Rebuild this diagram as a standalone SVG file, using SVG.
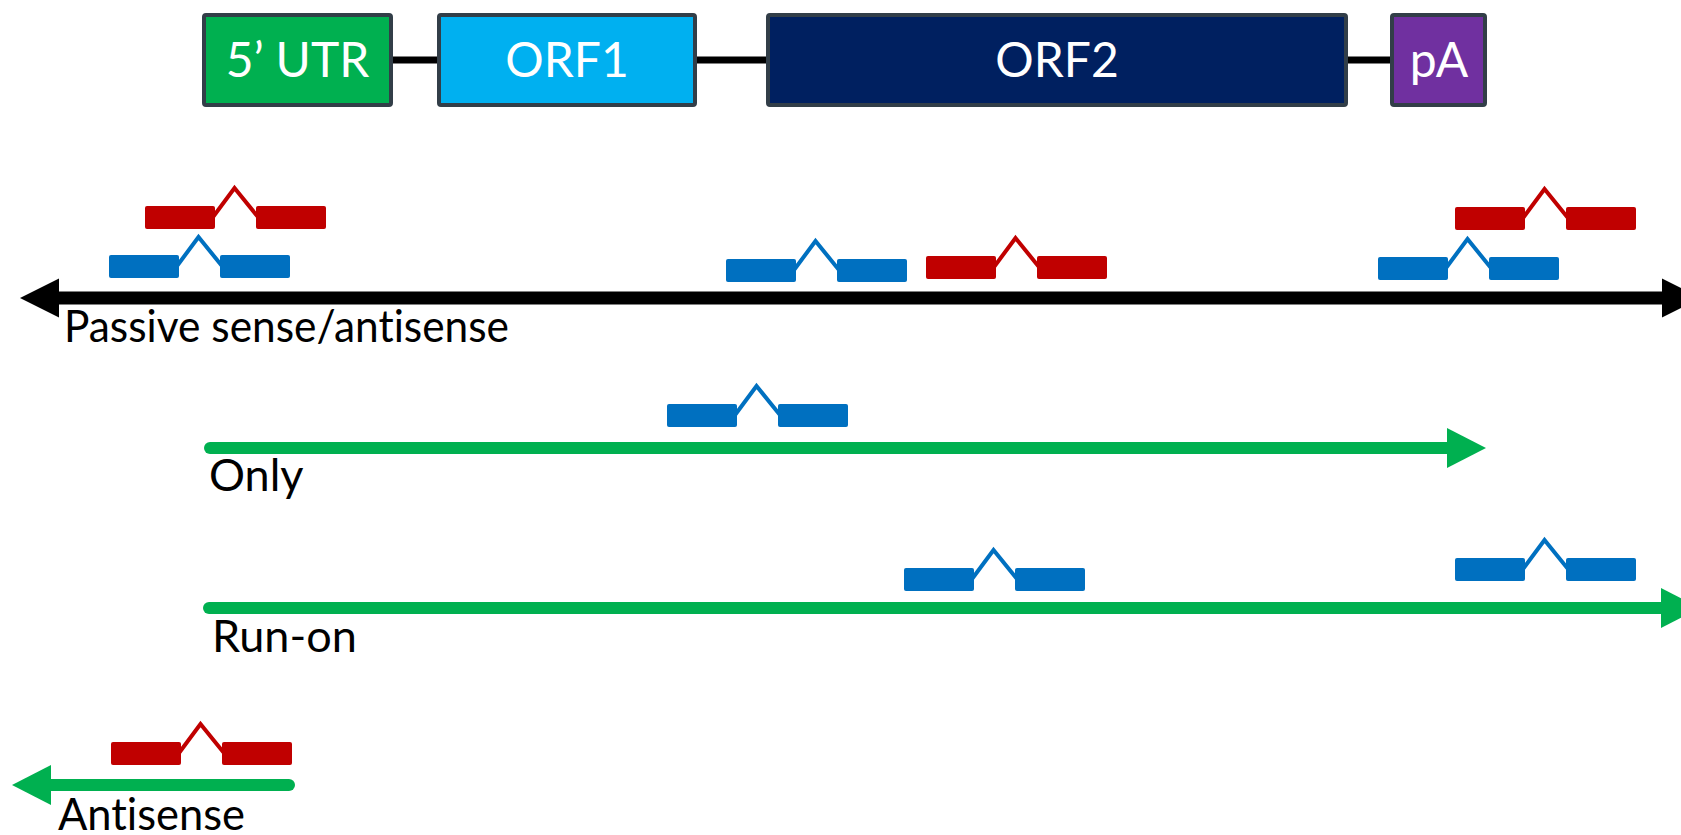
<svg xmlns="http://www.w3.org/2000/svg" xmlns:xlink="http://www.w3.org/1999/xlink" width="1681" height="835" viewBox="0 0 1681 835">
  <style>
    .box { stroke: #323e48; stroke-width: 4; }
    .boxlabel { font-family: Lato, "Open Sans", sans-serif; font-size: 48px; fill: #ffffff; text-anchor: middle; font-variant-ligatures: none; }
    .label { font-family: Lato, "Open Sans", sans-serif; font-size: 45px; fill: #000000; font-variant-ligatures: none; }
    .link { stroke: #000000; stroke-width: 7; stroke-linecap: round; fill: none; }
    .axis { stroke: #000000; stroke-width: 13; fill: none; }
    .strand { stroke: #00b050; stroke-width: 12; stroke-linecap: round; fill: none; }
    .sense { color: #0070c0; }
    .anti { color: #c00000; }
  </style>
  <defs>
    <marker id="headBlack" markerUnits="userSpaceOnUse" markerWidth="40" markerHeight="40" refX="0" refY="19.5" orient="auto-start-reverse" overflow="visible">
      <path d="M0,0 L39,19.5 L0,39 Z" fill="#000000"/>
    </marker>
    <marker id="headGreen" markerUnits="userSpaceOnUse" markerWidth="40" markerHeight="40" refX="0" refY="20" orient="auto-start-reverse" overflow="visible">
      <path d="M0,0 L39,20 L0,40 Z" fill="#00b050"/>
    </marker>
    <!-- spliced read: two exon blocks joined by an intron chevron -->
    <g id="splicedRead">
      <polyline points="68,11 89.5,-18 113,11" fill="none" stroke="currentColor" stroke-width="4" stroke-linejoin="miter"/>
      <rect x="0" y="0" width="70" height="23" rx="2" fill="currentColor"/>
      <rect x="111" y="0" width="70" height="23" rx="2" fill="currentColor"/>
    </g>
  </defs>

  <rect width="1681" height="835" fill="#ffffff"/>

  <!-- element structure -->
  <g id="connectors-structure">
    <line class="link" x1="393" y1="60" x2="437" y2="60"/>
    <line class="link" x1="697" y1="60" x2="766" y2="60"/>
    <line class="link" x1="1348" y1="60" x2="1390" y2="60"/>
  </g>
  <g id="utr5">
    <rect class="box" x="204" y="15" width="187" height="90" rx="2" fill="#00b050"/>
    <text class="boxlabel" x="297.5" y="77">5’ UTR</text>
  </g>
  <g id="orf1">
    <rect class="box" x="439" y="15" width="256" height="90" rx="2" fill="#00b0f0"/>
    <text class="boxlabel" x="567" y="77">ORF1</text>
  </g>
  <g id="orf2">
    <rect class="box" x="768" y="15" width="578" height="90" rx="2" fill="#002060"/>
    <text class="boxlabel" x="1057" y="77">ORF2</text>
  </g>
  <g id="polyA">
    <rect class="box" x="1392" y="15" width="93" height="90" rx="2" fill="#7030a0"/>
    <text class="boxlabel" x="1439" y="77">pA</text>
  </g>

  <!-- transcription directions -->
  <g id="connectors">
    <line class="axis" x1="59" y1="298" x2="1662" y2="298" marker-start="url(#headBlack)" marker-end="url(#headBlack)"/>
    <line class="strand" x1="210" y1="448" x2="1447" y2="448" marker-end="url(#headGreen)"/>
    <line class="strand" x1="209" y1="608" x2="1661" y2="608" marker-end="url(#headGreen)"/>
    <line class="strand" x1="289" y1="785" x2="51" y2="785" marker-end="url(#headGreen)"/>
  </g>

  <!-- passive sense/antisense reads -->
  <g id="passive-reads">
    <use xlink:href="#splicedRead" class="anti" x="145" y="206"/>
    <use xlink:href="#splicedRead" class="sense" x="109" y="255"/>
    <use xlink:href="#splicedRead" class="sense" x="726" y="259"/>
    <use xlink:href="#splicedRead" class="anti" x="926" y="256"/>
    <use xlink:href="#splicedRead" class="anti" x="1455" y="207"/>
    <use xlink:href="#splicedRead" class="sense" x="1378" y="257"/>
  </g>
  <g id="only-reads">
    <use xlink:href="#splicedRead" class="sense" x="667" y="404"/>
  </g>
  <g id="runon-reads">
    <use xlink:href="#splicedRead" class="sense" x="904" y="568"/>
    <use xlink:href="#splicedRead" class="sense" x="1455" y="558"/>
  </g>
  <g id="antisense-reads">
    <use xlink:href="#splicedRead" class="anti" x="111" y="742"/>
  </g>

  <g id="labels">
    <text class="label" x="64" y="342" textLength="445" lengthAdjust="spacingAndGlyphs">Passive sense/antisense</text>
    <text class="label" x="209" y="491">Only</text>
    <text class="label" x="212" y="652">Run-on</text>
    <text class="label" x="58" y="830" textLength="187" lengthAdjust="spacingAndGlyphs">Antisense</text>
  </g>
</svg>
